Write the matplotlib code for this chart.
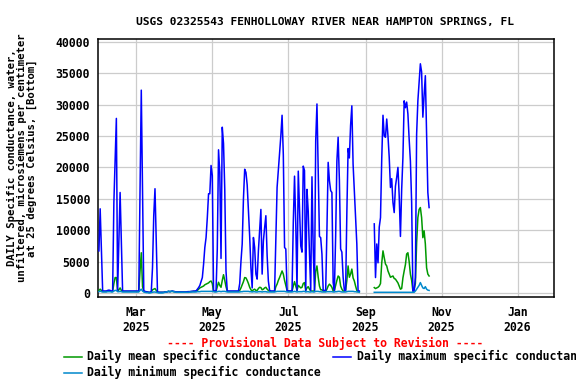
import numpy as np
import pandas as pd
import matplotlib
matplotlib.use("Agg")
import matplotlib.pyplot as plt
from matplotlib.lines import Line2D

plt.rcParams['font.family'] = ['DejaVu Sans Mono']
plt.rcParams['font.weight'] = 'bold'
plt.rcParams['font.size'] = 8.3

nan = np.nan

# daily values from 2025-01-30, microsiemens/cm
max_sc = [
    6700, 13400, 6700, 300, 300, 300, 300, 400, 450, 400,
    300, 300, 14400, 21100, 27800, 300, 8150, 16000, 8150, 300,
    300, 300, 300, 300, 300, 300, 300, 300, 300, 300,
    300, 300, 300, 16100, 32300, 16300, 300, 250, 200, 150,
    100, 100, 150, 4000, 12300, 16600, 8150, 150, 100, 100,
    100, 100, 100, 150, 150, 200, 250, 200, 250, 300,
    250, 200, 150, 150, 150, 150, 150, 150, 150, 150,
    150, 200, 200, 200, 250, 250, 300, 300, 320, 590,
    850, 1200, 1800, 2450, 4580, 7240, 8830, 12000, 15800, 15800,
    20300, 18700, 300, 300, 300, 7000, 22800, 19200, 5500, 26400,
    23800, 16500, 3500, 300, 300, 300, 300, 300, 300, 300,
    300, 300, 300, 1500, 5000, 7800, 15000, 19700, 19200, 17200,
    13000, 9000, 4000, 800, 8830, 7240, 3000, 2200, 6700, 9900,
    13300, 3000, 8300, 10400, 12300, 6000, 1900, 400, 300, 300,
    300, 300, 8830, 16800, 19500, 22000, 25000, 28300, 22000, 7240,
    7000, 400, 300, 300, 300, 300, 11200, 18600, 11000, 400,
    19400, 13400, 7500, 6500, 20200, 19500, 400, 16500, 13000, 6200,
    400, 18500, 7000, 400, 24200, 30100, 20000, 9000, 8800, 6200,
    400, 400, 400, 10000, 20800, 17900, 16300, 16000, 1650, 400,
    9000, 21000, 24800, 18000, 7000, 6500, 2500, 400, 400, 12800,
    23000, 21500, 26700, 29800, 20500, 16300, 12000, 7800, 300, 300,
    nan, nan, nan, nan, nan, nan, nan, nan, nan, nan, nan,
    11000, 2450, 7800, 4800, 10500, 12000, 21400, 28300, 25000,
    24800, 27700, 25000, 21600, 16800, 18200, 14400, 12800, 17000, 18400,
    20000, 15500, 9000, 16500, 21600, 30600, 29500, 30400, 28500, 24500,
    21000, 14400, 300, 300, 2450, 25300, 30600, 33600, 36500, 35200,
    28000, 31500, 34600, 25600, 16000, 13600,
]

mean_sc = [
    400, 600, 400, 250, 250, 250, 250, 300, 300, 300,
    250, 250, 1500, 2450, 2450, 300, 500, 800, 400, 250,
    250, 250, 250, 250, 250, 250, 250, 250, 250, 250,
    250, 250, 250, 3500, 6400, 1000, 250, 200, 150, 150,
    100, 100, 150, 500, 600, 700, 400, 150, 100, 100,
    100, 100, 100, 150, 150, 200, 250, 200, 250, 250,
    200, 200, 150, 150, 150, 150, 150, 150, 150, 150,
    150, 150, 200, 200, 200, 250, 250, 250, 300, 400,
    600, 800, 900, 1000, 1100, 1300, 1400, 1500, 1600, 1800,
    1900, 1500, 300, 250, 250, 1000, 1700, 1200, 900, 2000,
    2900, 2000, 1000, 300, 250, 250, 250, 250, 250, 250,
    250, 250, 250, 400, 800, 1300, 1800, 2450, 2400, 2000,
    1500, 900, 500, 300, 500, 600, 400, 400, 700, 900,
    850, 500, 600, 800, 900, 600, 400, 300, 250, 250,
    250, 250, 1000, 1400, 2000, 2450, 3000, 3500, 3000, 2000,
    1200, 400, 300, 300, 300, 300, 1100, 1800, 1100, 400,
    1200, 1000, 800, 900, 1500, 1650, 400, 800, 1000, 600,
    300, 300, 300, 300, 3500, 4300, 2500, 1100, 500, 500,
    300, 300, 300, 600, 1100, 1400, 1200, 900, 300, 400,
    1200, 2000, 2700, 2500, 1100, 600, 300, 300, 400, 2000,
    4300, 2500, 3000, 3800, 2400, 1900, 1100, 400, 200, 200,
    nan, nan, nan, nan, nan, nan, nan, nan, nan, nan, nan,
    850, 700, 800, 900, 1100, 1500, 4800, 6700, 5600,
    4600, 4300, 3500, 3000, 2500, 2600, 2700, 2300, 2200, 1900,
    1600, 1100, 600, 700, 2400, 3500, 4500, 6200, 6400, 5000,
    3000, 2000, 300, 600, 1500, 8000, 12000, 13300, 13600, 12000,
    8800, 9900, 7800, 4000, 3000, 2700,
]

min_sc = [
    200, 300, 200, 150, 150, 150, 150, 200, 200, 200,
    150, 150, 300, 400, 400, 200, 200, 250, 200, 150,
    150, 150, 150, 150, 150, 150, 150, 150, 150, 150,
    150, 150, 150, 400, 600, 300, 150, 100, 50, 50,
    0, 0, 50, 100, 150, 150, 100, 50, 0, 0,
    0, 0, 50, 100, 150, 200, 250, 200, 250, 250,
    200, 150, 100, 100, 100, 100, 100, 100, 100, 100,
    100, 100, 100, 150, 150, 150, 150, 150, 150, 200,
    200, 200, 250, 250, 250, 250, 250, 250, 250, 250,
    250, 250, 200, 150, 150, 200, 250, 250, 200, 250,
    250, 250, 200, 150, 150, 150, 150, 150, 150, 150,
    150, 150, 150, 150, 200, 200, 250, 250, 250, 250,
    250, 200, 200, 150, 200, 200, 150, 150, 200, 200,
    200, 150, 200, 200, 200, 150, 150, 150, 150, 150,
    150, 150, 200, 250, 250, 250, 250, 250, 250, 250,
    200, 150, 150, 150, 150, 150, 200, 250, 200, 150,
    200, 200, 200, 200, 250, 250, 150, 200, 200, 150,
    150, 200, 150, 150, 250, 250, 250, 200, 200, 150,
    150, 150, 150, 200, 200, 200, 200, 200, 150, 150,
    200, 200, 250, 250, 200, 150, 150, 150, 150, 200,
    250, 250, 250, 250, 250, 200, 200, 150, 150, 100,
    nan, nan, nan, nan, nan, nan, nan, nan, nan, nan, nan,
    100, 100, 100, 100, 100, 100, 100, 100, 100,
    100, 100, 100, 100, 100, 100, 100, 100, 100, 100,
    100, 100, 100, 100, 100, 100, 100, 100, 100, 100,
    100, 100, 100, 100, 300, 600, 900, 1200, 1650, 1200,
    800, 700, 1000, 600, 450, 400,
]

dates = pd.date_range("2025-01-30", periods=len(max_sc), freq="D")

tick_dates = pd.to_datetime(["2025-03-01", "2025-05-01", "2025-07-01",
                             "2025-09-01", "2025-11-01", "2026-01-01"])
tick_labels = ["Mar\n2025", "May\n2025", "Jul\n2025", "Sep\n2025", "Nov\n2025", "Jan\n2026"]
y_ticks = list(range(0, 40001, 5000))

c_mean = "#009900"
c_max = "#0000ff"
c_min = "#0088cc"

fig = plt.figure(figsize=(5.76, 3.84), dpi=100)
ax = fig.add_axes([98.3 / 576, 1 - 296.7 / 384, 456 / 576, 257.4 / 384])

ax.plot(dates, mean_sc, color=c_mean, lw=1.1, zorder=3)
ax.plot(dates, max_sc, color=c_max, lw=1.1, zorder=4)
ax.plot(dates, min_sc, color=c_min, lw=1.1, zorder=5)

ax.set_xlim(pd.Timestamp("2025-01-29 12:00"), pd.Timestamp("2026-01-30 12:00"))
ax.set_ylim(-600, 40400)
ax.set_xticks(tick_dates)
ax.set_xticklabels(tick_labels)
ax.set_yticks(y_ticks)
ax.set_yticklabels([str(v) for v in y_ticks])
ax.tick_params(axis="both", length=0)
ax.tick_params(axis="x", pad=6.5)
ax.tick_params(axis="y", pad=6)
ax.grid(color="#cccccc", linewidth=0.9, zorder=1)
ax.set_axisbelow(True)
for s in ax.spines.values():
    s.set_linewidth(1.1)

fig.text(324.5 / 576, 1 - 21.5 / 384, "USGS 02325543 FENHOLLOWAY RIVER NEAR HAMPTON SPRINGS, FL",
         ha="center", va="center", fontsize=8.1)
fig.text(22 / 576, 1 - 158 / 384,
         "DAILY Specific conductance, water,\nunfiltered, microsiemens per centimeter\nat 25 degrees Celsius, [Bottom]",
         rotation=90, ha="center", va="center", multialignment="center",
         linespacing=1.0, fontsize=7.7)
fig.text(325 / 576, 1 - 343 / 384, "---- Provisional Data Subject to Revision ----",
         color="red", ha="center", va="center")

# legend, laid out by hand
legend_items = [
    (64, 356.8, c_mean, "Daily mean specific conductance"),
    (333.3, 356.8, c_max, "Daily maximum specific conductance"),
    (64, 372.8, c_min, "Daily minimum specific conductance"),
]
for x0, y0, col, label in legend_items:
    yy = 1 - y0 / 384
    fig.add_artist(Line2D([x0 / 576, (x0 + 17.5) / 576], [yy, yy], color=col, lw=1.1,
                          transform=fig.transFigure))
    fig.text((x0 + 23.3) / 576, yy, label, ha="left", va="center")

fig.savefig("out.png", dpi=100)
